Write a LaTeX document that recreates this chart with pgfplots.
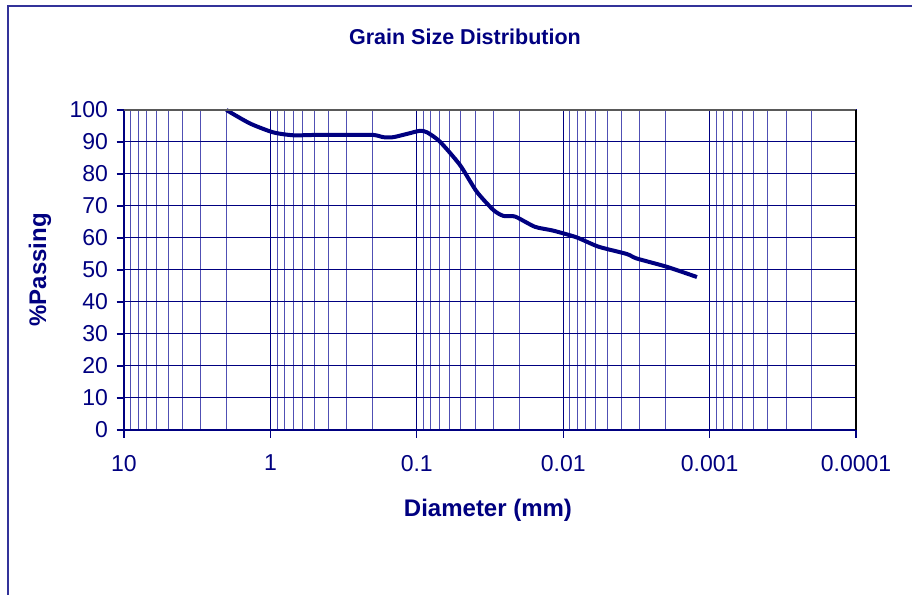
\documentclass[border=0pt]{standalone}
\usepackage{fontspec}
\setmainfont{Liberation Sans}
\usepackage{pgfplots}
\pgfplotsset{compat=1.18}
\definecolor{navy}{RGB}{0,0,128}
\definecolor{bord}{RGB}{51,51,153}
\definecolor{minorblue}{RGB}{80,80,180}
\begin{document}
\begin{tikzpicture}[x=1pt,y=1pt]
\useasboundingbox (0,0) rectangle (912,594);
\clip (0,0) rectangle (912,594);
\fill[white] (0,0) rectangle (912,594);
\draw[line width=2pt, bord] (7.5,-10) -- (7.5,588) -- (930,588);
\begin{axis}[
  at={(124pt,164pt)}, anchor=south west,
  scale only axis, width=732pt, height=320pt,
  xmode=log, x dir=reverse,
  xmin=0.0001, xmax=10, ymin=0, ymax=100,
  xtick={10,1,0.1,0.01,0.001,0.0001},
  xticklabels={10,1,0.1,0.01,0.001,0.0001},
  minor xtick={0.0002,0.0003,0.0004,0.0005,0.0006,0.0007,0.0008,0.0009,
    0.002,0.003,0.004,0.005,0.006,0.007,0.008,0.009,
    0.02,0.03,0.04,0.05,0.06,0.07,0.08,0.09,
    0.2,0.3,0.4,0.5,0.6,0.7,0.8,0.9,
    2,3,4,5,6,7,8,9},
  ytick={0,10,...,100},
  xmajorgrids, xminorgrids, ymajorgrids,
  major grid style={navy, line width=1pt},
  minor grid style={minorblue, line width=1pt},
  axis line style={navy, line width=1.2pt},
  tick align=outside, xtick pos=bottom, ytick pos=left,
  major tick length=7.5pt, minor tick length=0pt,
  tick style={navy, line width=1.2pt},
  every tick label/.append style={font=\fontsize{23}{26}\selectfont, text=navy},
  xticklabel style={yshift=-14pt},
  yticklabel style={xshift=-5pt},
  /pgf/number format/assume math mode=true,
  clip=false,
]
\addplot[navy, line width=4pt, smooth, tension=0.4] coordinates {
(2,100) (1.38,95.8) (0.955,93.0) (0.70,92.1) (0.5,92.2) (0.3,92.2) (0.198,92.2)
(0.169,91.5) (0.145,91.5) (0.115,92.6) (0.095,93.5) (0.085,93.0)
(0.0695,90.1) (0.0507,82.8) (0.039,74.5) (0.030,68.75) (0.0256,66.9) (0.0213,66.7)
(0.0156,63.5) (0.0117,62.3) (0.0081,60.2) (0.00575,57.3) (0.00368,55.0)
(0.00315,53.6) (0.00196,51.0) (0.00122,47.8)
};
\draw[gray!70!black, line width=1.2pt] (rel axis cs:0,1) -- (rel axis cs:1,1);
\draw[black, line width=1.2pt] (rel axis cs:1,0) -- (rel axis cs:1,1);
\end{axis}
\node[text=navy, font=\bfseries\fontsize{21.5}{24}\selectfont] at (465,557.5) {Grain Size Distribution};
\node[text=navy, font=\bfseries\fontsize{24}{28}\selectfont] at (488,84) {Diameter (mm)};
\node[text=navy, font=\bfseries\fontsize{24}{28}\selectfont, rotate=90] at (40,324) {\%Passing};
\end{tikzpicture}
\end{document}
